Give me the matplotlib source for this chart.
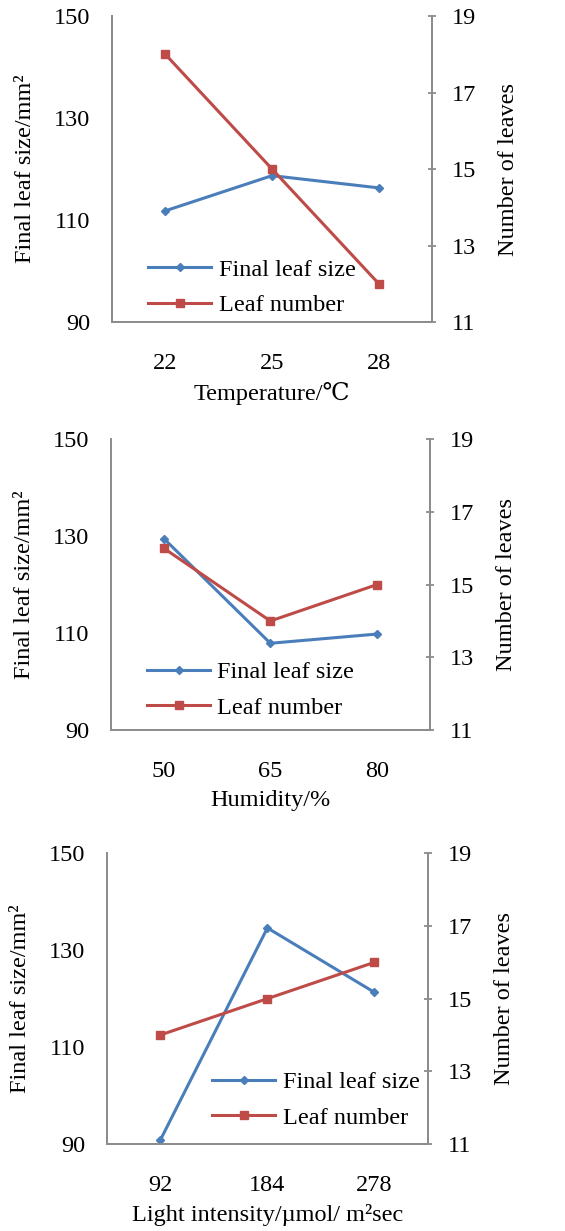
import matplotlib
matplotlib.use("Agg")
import matplotlib.pyplot as plt

plt.rcParams['font.family'] = ['Liberation Serif', 'DejaVu Serif']
plt.rcParams['font.size'] = 17.5

# data
temp_labels = ['22', '25', '28']
temp_size = [111.8, 118.7, 116.3]
temp_num = [18, 15, 12]

hum_labels = ['50', '65', '80']
hum_size = [129.5, 107.9, 109.8]
hum_num = [16, 14, 15]

light_labels = ['92', '184', '278']
light_size = [90.8, 134.6, 121.3]
light_num = [14, 15, 16]

panels = [
    (temp_labels, temp_size, temp_num, 'Temperature/\u2103', [0.198, 0.7384, 0.567, 0.2486], (0.06, -0.036)),
    (hum_labels, hum_size, hum_num, 'Humidity/%', [0.196, 0.407, 0.565, 0.2361], (0.06, -0.02)),
    (light_labels, light_size, light_num, 'Light intensity/\u00b5mol/ m\u00b2sec', [0.189, 0.0707, 0.5685, 0.2361], (0.275, -0.006)),
]

blue = '#4a7ebb'
red = '#be4b48'
grey = '#8c8c8c'

fig = plt.figure(figsize=(5.65, 12.31), dpi=100)

for labels, size, num, xlab, rect, legpos in panels:
    ax = fig.add_axes(rect)
    ax2 = ax.twinx()
    x = range(len(labels))
    l1, = ax.plot(x, size, color=blue, lw=2.2, marker='D', ms=4.5, label='Final leaf size')
    l2, = ax2.plot(x, num, color=red, lw=2.2, marker='s', ms=6, label='Leaf number')
    ax.set_xlim(-0.5, 2.5)
    ax.set_ylim(90, 150)
    ax.set_yticks([90, 110, 130, 150])
    ax2.set_ylim(11, 19)
    ax2.set_yticks([11, 13, 15, 17, 19])
    ax.set_xticks(list(x))
    ax.set_xticklabels(labels)
    ax.set_xlabel(xlab, labelpad=6)
    ax.set_ylabel('Final leaf size/mm\u00b2', labelpad=13)
    ax2.set_ylabel('Number of leaves', labelpad=16)
    for a in (ax, ax2):
        a.spines['top'].set_visible(False)
        for s in a.spines.values():
            s.set_color(grey)
            s.set_linewidth(1.3)
    ax.tick_params(axis='x', length=0, pad=22)
    ax.tick_params(axis='y', length=0, pad=15.5)
    ax2.tick_params(axis='y', length=6, width=1.3, color=grey, direction='inout', pad=11)
    ax.legend(handles=[l1, l2], loc='lower left', bbox_to_anchor=legpos,
              frameon=False, handlelength=2.6, handletextpad=0.3, labelspacing=0.55,
              borderaxespad=0.3)

fig.savefig('out.png', dpi=100)
